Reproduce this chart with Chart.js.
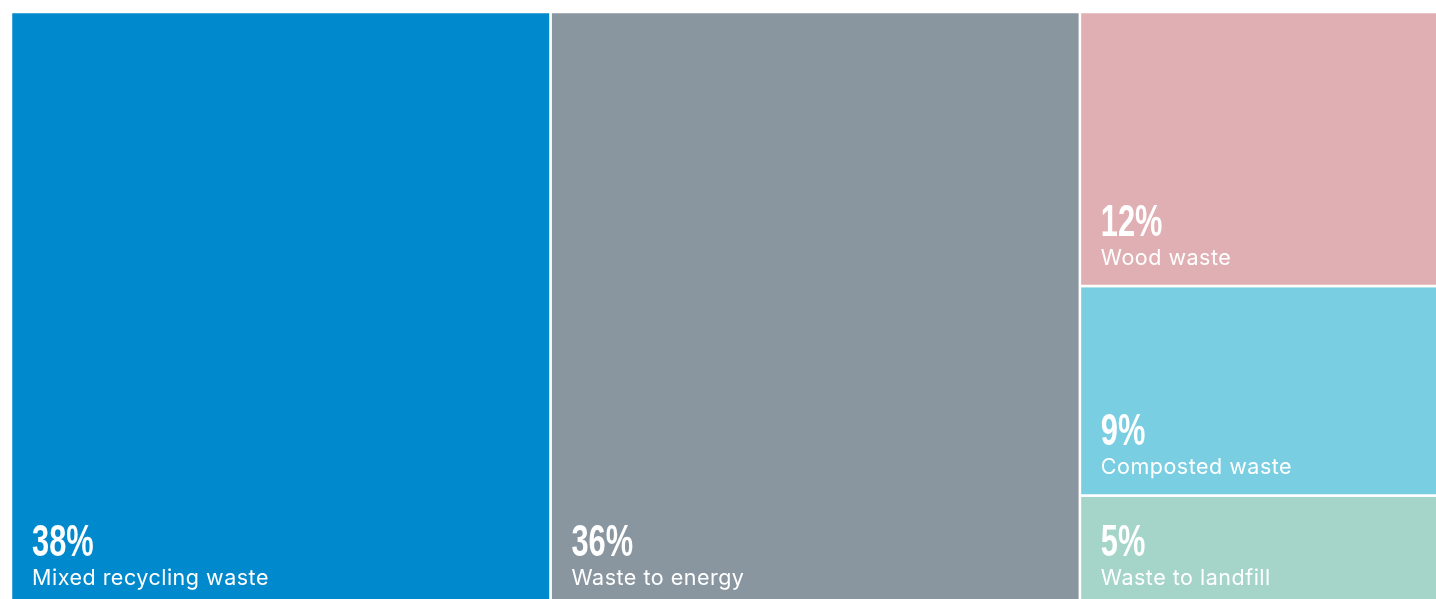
<!DOCTYPE html>
<html>
<head>
<meta charset="utf-8">
<script src="https://cdn.jsdelivr.net/npm/chart.js@4.4.1/dist/chart.umd.min.js"></script>
<style>
  html, body { margin: 0; padding: 0; background: #fff; overflow: hidden; }
  #wrap { width: 1460px; height: 620px; }
</style>
</head>
<body>
<div id="wrap"><canvas id="chart"></canvas></div>
<script>
'use strict';

// Data
const categories = ['Mixed recycling waste', 'Waste to energy', 'Wood waste', 'Composted waste', 'Waste to landfill'];
const pctLabels = ['38%', '36%', '12%', '9%', '5%'];
// tile areas as measured in the picture (share of the whole)
const areas = [37.5, 36.8, 11.9, 9.1, 4.8];
const colors = ['#0089cd', '#8996a0', '#e0afb3', '#7acee2', '#a4d5c8'];
// which tiles share a column, left to right
const columns = [[0], [1], [2, 3, 4]];

const total = areas.reduce((a, b) => a + b, 0);

// slice the x range into columns, then each column into stacked tiles
function layoutTiles() {
    const tiles = [];
    let x0 = 0;
    columns.forEach(col => {
        const colSum = col.reduce((s, i) => s + areas[i], 0);
        const x1 = x0 + colSum;
        let y0 = 0;
        col.forEach(i => {
            const y1 = y0 + (areas[i] / colSum) * total;
            tiles[i] = { x0, x1, y0, y1 };
            y0 = y1;
        });
        x0 = x1;
    });
    return tiles;
}

const tiles = layoutTiles();

const datasets = tiles.map((t, i) => ({
    label: categories[i],
    data: [
        { x: t.x0, y: t.y0 }, { x: t.x1, y: t.y0 },
        { x: t.x1, y: t.y1 }, { x: t.x0, y: t.y1 },
        { x: t.x0, y: t.y0 }
    ],
    showLine: true,
    fill: 'shape',
    backgroundColor: colors[i],
    borderColor: '#ffffff',
    borderWidth: 2.5,
    pointRadius: 0,
    tension: 0
}));

const tileLabels = {
    id: 'tileLabels',
    afterDatasetsDraw(chart) {
        const { ctx, scales: { x, y } } = chart;
        ctx.save();
        ctx.fillStyle = '#ffffff';
        ctx.textBaseline = 'alphabetic';
        tiles.forEach((t, i) => {
            const left = x.getPixelForValue(t.x0) + 21;
            const bottom = Math.max(y.getPixelForValue(t.y0), y.getPixelForValue(t.y1));
            const nameBase = bottom - 21;
            ctx.font = '21.5px Inter, "Liberation Sans", sans-serif';
            ctx.letterSpacing = '0.5px';
            ctx.fillText(categories[i], left, nameBase);
            ctx.letterSpacing = '0px';
            // condensed bold figure above the name
            ctx.save();
            ctx.translate(left, nameBase - 29);
            ctx.scale(0.7, 1);
            ctx.font = 'bold 44px "Liberation Sans", Arial, sans-serif';
            ctx.fillText(pctLabels[i], 0, 0);
            ctx.restore();
        });
        ctx.restore();
    }
};

new Chart(document.getElementById('chart'), {
    type: 'scatter',
    data: { datasets },
    options: {
        responsive: true,
        maintainAspectRatio: false,
        animation: false,
        layout: { padding: { left: 11, top: 12, right: 9, bottom: 14 } },
        scales: {
            x: { type: 'linear', min: 0, max: total, display: false },
            y: { type: 'linear', min: 0, max: total, reverse: true, display: false }
        },
        plugins: {
            legend: { display: false },
            tooltip: { enabled: false }
        }
    },
    plugins: [tileLabels]
});
</script>
</body>
</html>
